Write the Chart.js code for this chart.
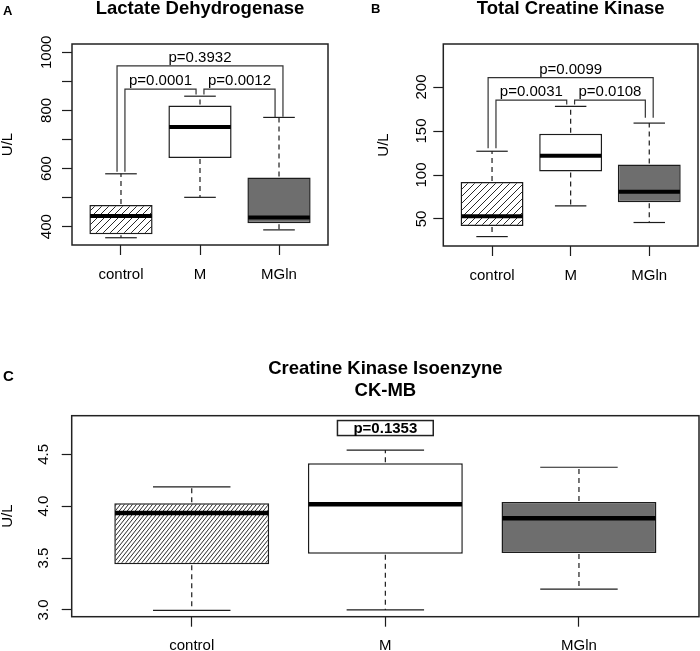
<!DOCTYPE html>
<html>
<head>
<meta charset="utf-8">
<script src="https://cdn.jsdelivr.net/npm/chart.js@4/dist/chart.umd.min.js"></script>
<style>
  html, body { margin: 0; padding: 0; background: #fff; }
  #wrap { position: relative; width: 700px; height: 651px; overflow: hidden;
          font-family: "Liberation Sans", Arial, sans-serif; }
  .pan { position: absolute; }
  .pan canvas { display: block; }
  .letter { position: absolute; font-weight: bold; line-height: 1; color: #000; }
</style>
</head>
<body>
<div id="wrap">
  <div class="pan" style="left:0;top:0"><canvas id="cA" width="350" height="300"></canvas></div>
  <div class="pan" style="left:350px;top:0"><canvas id="cB" width="350" height="300"></canvas></div>
  <div class="pan" style="left:0;top:320px"><canvas id="cC" width="700" height="331"></canvas></div>
  <div class="letter" style="left:3px;top:4px;font-size:13px">A</div>
  <div class="letter" style="left:371px;top:2px;font-size:13px">B</div>
  <div class="letter" style="left:3px;top:368px;font-size:15px">C</div>
</div>
<script>
// ---------- data ----------
const categories = ['control', 'M', 'MGln'];

// A: Lactate Dehydrogenase (U/L)
const ldhLow    = [362, 501, 389];
const ldhQ1     = [374, 636, 412];
const ldhMedian = [437, 743, 432];
const ldhQ3     = [475, 817, 569];
const ldhHigh   = [582, 849, 776];
const ldhTicks      = [400, 500, 600, 700, 800, 900, 1000];
const ldhTickLabels = ['400', '', '600', '', '800', '', '1000'];
const ldhPLabels   = ['p=0.0001', 'p=0.0012', 'p=0.3932'];
const ldhPFrom     = [1, 2, 1];
const ldhPTo       = [2, 3, 3];
const ldhPTop      = [873, 873, 953];
const ldhPLegLeft  = [589, 855, 589];
const ldhPLegRight = [855, 777, 778];

// B: Total Creatine Kinase (U/L)
const ckLow    = [30, 65, 46];
const ckQ1     = [42, 104, 69];
const ckMedian = [53, 122, 81];
const ckQ3     = [92, 147, 112];
const ckHigh   = [127, 178, 159];
const ckTicks      = [50, 100, 150, 200];
const ckTickLabels = ['50', '100', '150', '200'];
const ckPLabels   = ['p=0.0031', 'p=0.0108', 'p=0.0099'];
const ckPFrom     = [1, 2, 1];
const ckPTo       = [2, 3, 3];
const ckPTop      = [185, 185, 210.6];
const ckPLegLeft  = [130.5, 180, 130.5];
const ckPLegRight = [180, 165, 165];

// C: Creatine Kinase Isoenzyne CK-MB (U/L)
const ckmbLow    = [2.995, 3.0, 3.2];
const ckmbQ1     = [3.44, 3.541, 3.55];
const ckmbMedian = [3.935, 4.019, 3.884];
const ckmbQ3     = [4.029, 4.413, 4.041];
const ckmbHigh   = [4.186, 4.541, 4.375];
const ckmbTicks      = [3.0, 3.5, 4.0, 4.5];
const ckmbTickLabels = ['3.0', '3.5', '4.0', '4.5'];
const ckmbPLabel = 'p=0.1353';
const ckmbPX = 2;
const ckmbPY = 4.753;

// ---------- helpers ----------
const FONT = "'Liberation Sans', Arial, sans-serif";
const INK = '#1c1c1c';

function hatch(w, h) {
  const c = document.createElement('canvas');
  c.width = w; c.height = h;
  const g = c.getContext('2d');
  g.fillStyle = '#fff'; g.fillRect(0, 0, w, h);
  g.strokeStyle = '#2a2a2a'; g.lineWidth = 1;
  g.beginPath();
  for (const k of [-w, 0, w]) { g.moveTo(k, h); g.lineTo(k + w, 0); }
  g.stroke();
  return g.createPattern(c, 'repeat');
}

const boxPlugin = {
  id: 'boxExtras',
  afterDatasetsDraw(chart, args, o) {
    const ctx = chart.ctx, ca = chart.chartArea;
    const xs = chart.scales.x, ys = chart.scales.y;
    const meta = chart.getDatasetMeta(0);
    const ln = (x1, y1, x2, y2) => { ctx.beginPath(); ctx.moveTo(x1, y1); ctx.lineTo(x2, y2); ctx.stroke(); };
    ctx.save();
    ctx.strokeStyle = INK;
    meta.data.forEach((bar, i) => {
      const x = xs.getPixelForValue(i + 1);
      const w = bar.width;
      const yLo = ys.getPixelForValue(o.low[i]), yQ1 = ys.getPixelForValue(o.q1[i]);
      const yQ3 = ys.getPixelForValue(o.q3[i]), yHi = ys.getPixelForValue(o.high[i]);
      const yMed = ys.getPixelForValue(o.median[i]);
      ctx.lineWidth = 1.2;
      ctx.setLineDash([5, 4]);
      ln(x, yQ3 - 1, x, yHi);
      ln(x, yQ1 + 1, x, yLo);
      ctx.setLineDash([]);
      ln(x - w / 4, yHi, x + w / 4, yHi);
      ln(x - w / 4, yLo, x + w / 4, yLo);
      ctx.lineWidth = o.medianWidth;
      ctx.strokeStyle = '#000';
      ln(x - w / 2 + 0.75, yMed, x + w / 2 - 0.75, yMed);
      ctx.strokeStyle = INK;
    });
    // significance brackets
    if (o.pLabels) {
      ctx.lineWidth = 1.2;
      ctx.strokeStyle = '#333';
      ctx.fillStyle = '#000';
      ctx.font = '15px ' + FONT;
      ctx.textAlign = 'center';
      ctx.textBaseline = 'alphabetic';
      o.pLabels.forEach((lab, k) => {
        const span = o.pTo[k] - o.pFrom[k];
        const off = span > 1 ? -0.05 : 0.05;
        const x1 = xs.getPixelForValue(o.pFrom[k] + off);
        const x2 = xs.getPixelForValue(o.pTo[k] - off);
        const yt = ys.getPixelForValue(o.pTop[k]);
        ctx.beginPath();
        ctx.moveTo(x1, ys.getPixelForValue(o.pLegLeft[k]));
        ctx.lineTo(x1, yt);
        ctx.lineTo(x2, yt);
        ctx.lineTo(x2, ys.getPixelForValue(o.pLegRight[k]));
        ctx.stroke();
        ctx.fillText(lab, (x1 + x2) / 2, yt - 4);
      });
    }
    // boxed p label
    if (o.pBox) {
      const px = xs.getPixelForValue(o.pBox.x), py = ys.getPixelForValue(o.pBox.y);
      ctx.font = 'bold 15px ' + FONT;
      const tw = ctx.measureText(o.pBox.label).width;
      ctx.fillStyle = '#fff';
      ctx.strokeStyle = '#222';
      ctx.lineWidth = 1.5;
      ctx.fillRect(px - tw / 2 - 16, py - 7.5, tw + 32, 15);
      ctx.strokeRect(px - tw / 2 - 16, py - 7.5, tw + 32, 15);
      ctx.fillStyle = '#000';
      ctx.textAlign = 'center';
      ctx.textBaseline = 'middle';
      ctx.fillText(o.pBox.label, px, py + 0.5);
    }
    // plot frame
    ctx.lineWidth = 1.5;
    ctx.strokeStyle = '#222';
    ctx.strokeRect(ca.left, ca.top, ca.right - ca.left, ca.bottom - ca.top);
    ctx.restore();
  }
};

function makeChart(id, c) {
  return new Chart(document.getElementById(id), {
    type: 'bar',
    data: {
      datasets: [{
        data: c.q1.map((q, i) => ({ x: i + 1, y: [q, c.q3[i]] })),
        backgroundColor: c.fills,
        borderColor: INK,
        borderWidth: 1.5,
        borderSkipped: false,
        barPercentage: 0.8,
        categoryPercentage: 1
      }]
    },
    options: {
      responsive: false,
      animation: false,
      devicePixelRatio: 1,
      events: [],
      layout: { padding: { left: 0, right: c.padRight, top: 0, bottom: 0 } },
      plugins: {
        legend: { display: false },
        tooltip: { enabled: false },
        title: {
          display: true, text: c.title, fullSize: false, color: '#000',
          font: { family: FONT, size: 18.5, weight: 'bold', lineHeight: c.titleLH },
          padding: { top: c.titleTop, bottom: c.titleBottom }
        },
        boxExtras: {
          low: c.low, q1: c.q1, median: c.median, q3: c.q3, high: c.high,
          medianWidth: c.medianWidth,
          pLabels: c.pLabels, pFrom: c.pFrom, pTo: c.pTo, pTop: c.pTop,
          pLegLeft: c.pLegLeft, pLegRight: c.pLegRight, pBox: c.pBox
        }
      },
      scales: {
        x: {
          type: 'linear', min: 0.38, max: 3.62, offset: false,
          afterBuildTicks: s => { s.ticks = categories.map((_, i) => ({ value: i + 1 })); },
          afterFit: s => { s.height = c.xAxisH; },
          grid: { display: true, offset: false, drawOnChartArea: false, drawTicks: true, tickLength: 10, tickColor: INK, tickWidth: 1.2, color: INK },
          border: { display: false },
          ticks: {
            autoSkip: false, maxRotation: 0, minRotation: 0, padding: c.xPad,
            color: '#000', font: { family: FONT, size: 15 },
            callback: v => categories[Math.round(v) - 1]
          }
        },
        y: {
          type: 'linear', min: c.yMin, max: c.yMax,
          afterBuildTicks: s => { s.ticks = c.ticks.map(v => ({ value: v })); },
          afterFit: s => { s.width = c.yAxisW; },
          grid: { display: true, drawOnChartArea: false, drawTicks: true, tickLength: 10, tickColor: INK, tickWidth: 1.2, color: INK },
          border: { display: false },
          ticks: {
            autoSkip: false, minRotation: 90, maxRotation: 90, crossAlign: 'center',
            padding: c.yPad, color: '#000', font: { family: FONT, size: 15 },
            callback: v => { const k = c.ticks.findIndex(t => Math.abs(t - v) < 1e-9); return k >= 0 ? c.tickLabels[k] : ''; }
          },
          title: {
            display: true, text: 'U/L', color: '#000',
            font: { family: FONT, size: 15, lineHeight: 1 },
            padding: { top: c.yTitlePad, bottom: 0 }
          }
        }
      }
    },
    plugins: [boxPlugin]
  });
}

makeChart('cA', {
  title: 'Lactate Dehydrogenase', titleLH: 0.8, titleTop: 1.5, titleBottom: 27.7,
  low: ldhLow, q1: ldhQ1, median: ldhMedian, q3: ldhQ3, high: ldhHigh,
  fills: [hatch(7, 7), '#ffffff', '#6e6e6e'], medianWidth: 4,
  ticks: ldhTicks, tickLabels: ldhTickLabels, yMin: 337, yMax: 1028.6,
  yAxisW: 72, xAxisH: 55, padRight: 22, yPad: -1.4, xPad: 10.5, yTitlePad: 0.8,
  pLabels: ldhPLabels, pFrom: ldhPFrom, pTo: ldhPTo, pTop: ldhPTop,
  pLegLeft: ldhPLegLeft, pLegRight: ldhPLegRight
});

makeChart('cB', {
  title: 'Total Creatine Kinase', titleLH: 0.8, titleTop: 1.5, titleBottom: 27.7,
  low: ckLow, q1: ckQ1, median: ckMedian, q3: ckQ3, high: ckHigh,
  fills: [hatch(7, 7), '#ffffff', '#6e6e6e'], medianWidth: 4,
  ticks: ckTicks, tickLabels: ckTickLabels, yMin: 19.3, yMax: 248.9,
  yAxisW: 93.3, xAxisH: 54, padRight: 2, yPad: -0.9, xPad: 10.5, yTitlePad: 26.8,
  pLabels: ckPLabels, pFrom: ckPFrom, pTo: ckPTo, pTop: ckPTop,
  pLegLeft: ckPLegLeft, pLegRight: ckPLegRight
});

makeChart('cC', {
  title: ['Creatine Kinase Isoenzyne', 'CK-MB'], titleLH: 1.189, titleTop: 38, titleBottom: 13.7,
  low: ckmbLow, q1: ckmbQ1, median: ckmbMedian, q3: ckmbQ3, high: ckmbHigh,
  fills: [hatch(4, 5), '#ffffff', '#6e6e6e'], medianWidth: 4.5,
  ticks: ckmbTicks, tickLabels: ckmbTickLabels, yMin: 2.935, yMax: 4.872,
  yAxisW: 71.7, xAxisH: 34.3, padRight: 1, yPad: 7, xPad: 10, yTitlePad: 0,
  pBox: { label: ckmbPLabel, x: ckmbPX, y: ckmbPY }
});
</script>
</body>
</html>
